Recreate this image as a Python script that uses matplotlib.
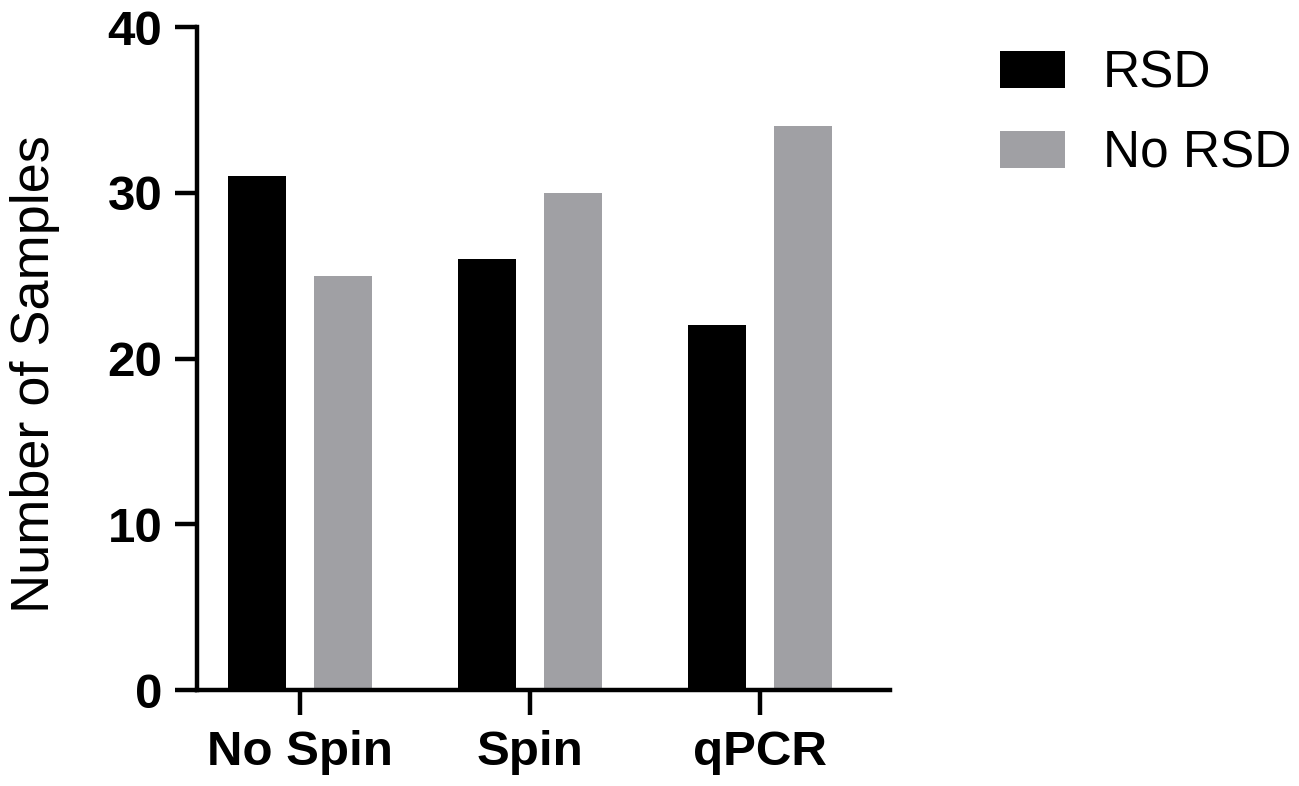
import numpy as np
import matplotlib
matplotlib.use('Agg')
import matplotlib.pyplot as plt

plt.rcParams['font.family'] = ['Liberation Sans', 'DejaVu Sans']

groups = ['No Spin', 'Spin', 'qPCR']
rsd = [31, 26, 22]
no_rsd = [25, 30, 34]
yticks = [0, 10, 20, 30, 40]

x = np.arange(len(groups))
w = 0.255
off = 0.187

fig = plt.figure(figsize=(12.99, 7.86), dpi=100)
ax = fig.add_axes([0.1517, 0.1221, 0.6852 - 0.1517, 0.9656 - 0.1221])

ax.bar(x - off, rsd, width=w, color='black', label='RSD')
ax.bar(x + off, no_rsd, width=w, color='#a0a0a4', label='No RSD')

ax.set_xlim(-0.448, 2.565)
ax.set_ylim(0, 40)
ax.set_yticks(yticks)
ax.set_xticks(x)
ax.set_xticklabels(groups, fontsize=35.5, fontweight='bold')
ax.set_yticklabels([str(t) for t in yticks], fontsize=35.5, fontweight='bold')
ax.set_ylabel('Number of Samples', fontsize=39)
ax.yaxis.set_label_coords(-0.198, 0.476)

for s in ['top', 'right']:
    ax.spines[s].set_visible(False)
for s in ['left', 'bottom']:
    ax.spines[s].set_linewidth(3.2)
ax.tick_params(axis='y', length=16, width=3.2, pad=9)
ax.tick_params(axis='x', length=18, width=3.2, pad=11)

fig.legend(loc='upper left', bbox_to_anchor=(0.770, 0.937), frameon=False,
           fontsize=37, handlelength=1.26, handleheight=0.75,
           handletextpad=0.74, labelspacing=0.6, borderpad=0, borderaxespad=0)

fig.savefig('out.png', dpi=100)
